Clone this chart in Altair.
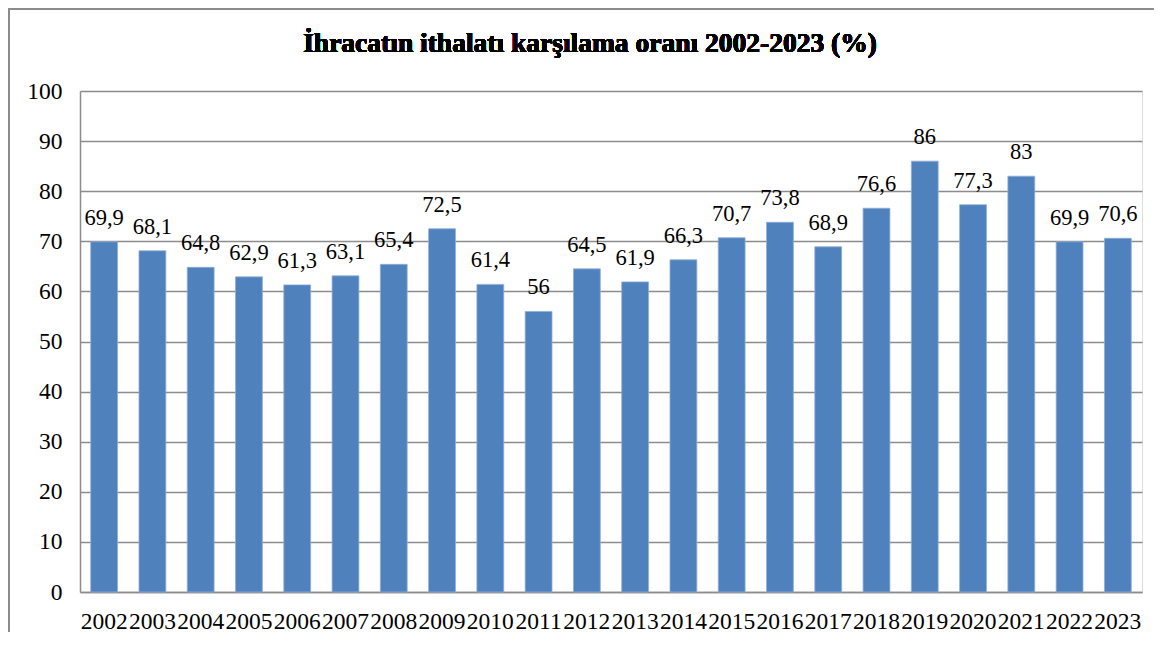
import altair as alt
import pandas as pd

years = [str(y) for y in range(2002, 2024)]
values = [69.9, 68.1, 64.8, 62.9, 61.3, 63.1, 65.4, 72.5, 61.4, 56.0, 64.5,
          61.9, 66.3, 70.7, 73.8, 68.9, 76.6, 86.0, 77.3, 83.0, 69.9, 70.6]
y_ticks = [0, 10, 20, 30, 40, 50, 60, 70, 80, 90, 100]
title_text = "İhracatın ithalatı karşılama oranı 2002-2023 (%)"


def fmt(v):
    s = ("%g" % v)
    return s.replace(".", ",")


df = pd.DataFrame({"year": years, "value": values,
                   "label": [fmt(v) for v in values]})

FONT = "Times New Roman, Liberation Serif, serif"

x_enc = alt.X("year:O", title=None,
              scale=alt.Scale(paddingInner=0.444, paddingOuter=0.222),
              axis=alt.Axis(labelAngle=0, labelFont=FONT, labelFontSize=23.5,
                            labelColor="black", ticks=False, domain=True,
                            domainColor="#8c8c8c", domainWidth=1.5,
                            labelPadding=17, grid=False))
y_enc = alt.Y("value:Q", title=None,
              scale=alt.Scale(domain=[0, 100], nice=False),
              axis=alt.Axis(values=y_ticks, labelFont=FONT, labelFontSize=23.5,
                            labelColor="black", ticks=False, domain=True,
                            domainColor="#8c8c8c", domainWidth=1.5,
                            gridColor="#8c8c8c", gridWidth=1.5,
                            labelPadding=18))

bars = alt.Chart(df).mark_bar(color="#4F81BD", stroke="#8FAEDA",
                              strokeWidth=0.8).encode(x=x_enc, y=y_enc)

labels = alt.Chart(df).mark_text(font=FONT, fontSize=22.5, color="black",
                                 baseline="alphabetic", dy=-17).encode(
    x="year:O", y="value:Q", text="label:N")

frame = alt.Chart(df).mark_rect(fill=None, stroke="#8c8c8c",
                                strokeWidth=2).encode(
    x=alt.value(-71), x2=alt.value(1089), y=alt.value(-82), y2=alt.value(700))

title = alt.Chart(df).mark_text(font=FONT, fontSize=27.5, fontWeight="bold",
                                color="black", align="center",
                                baseline="alphabetic").encode(
    x=alt.value(510), y=alt.value(-39), text=alt.value(title_text))

chart = alt.layer(frame, bars, labels, title).properties(
    width=1062, height=501,
    autosize=alt.AutoSizeParams(type="none"),
    padding={"left": 72, "top": 83, "right": 12, "bottom": 40},
).configure_view(stroke=None).configure(background="white")

chart.save("out.html", embed_options={"renderer": "svg", "actions": False})
